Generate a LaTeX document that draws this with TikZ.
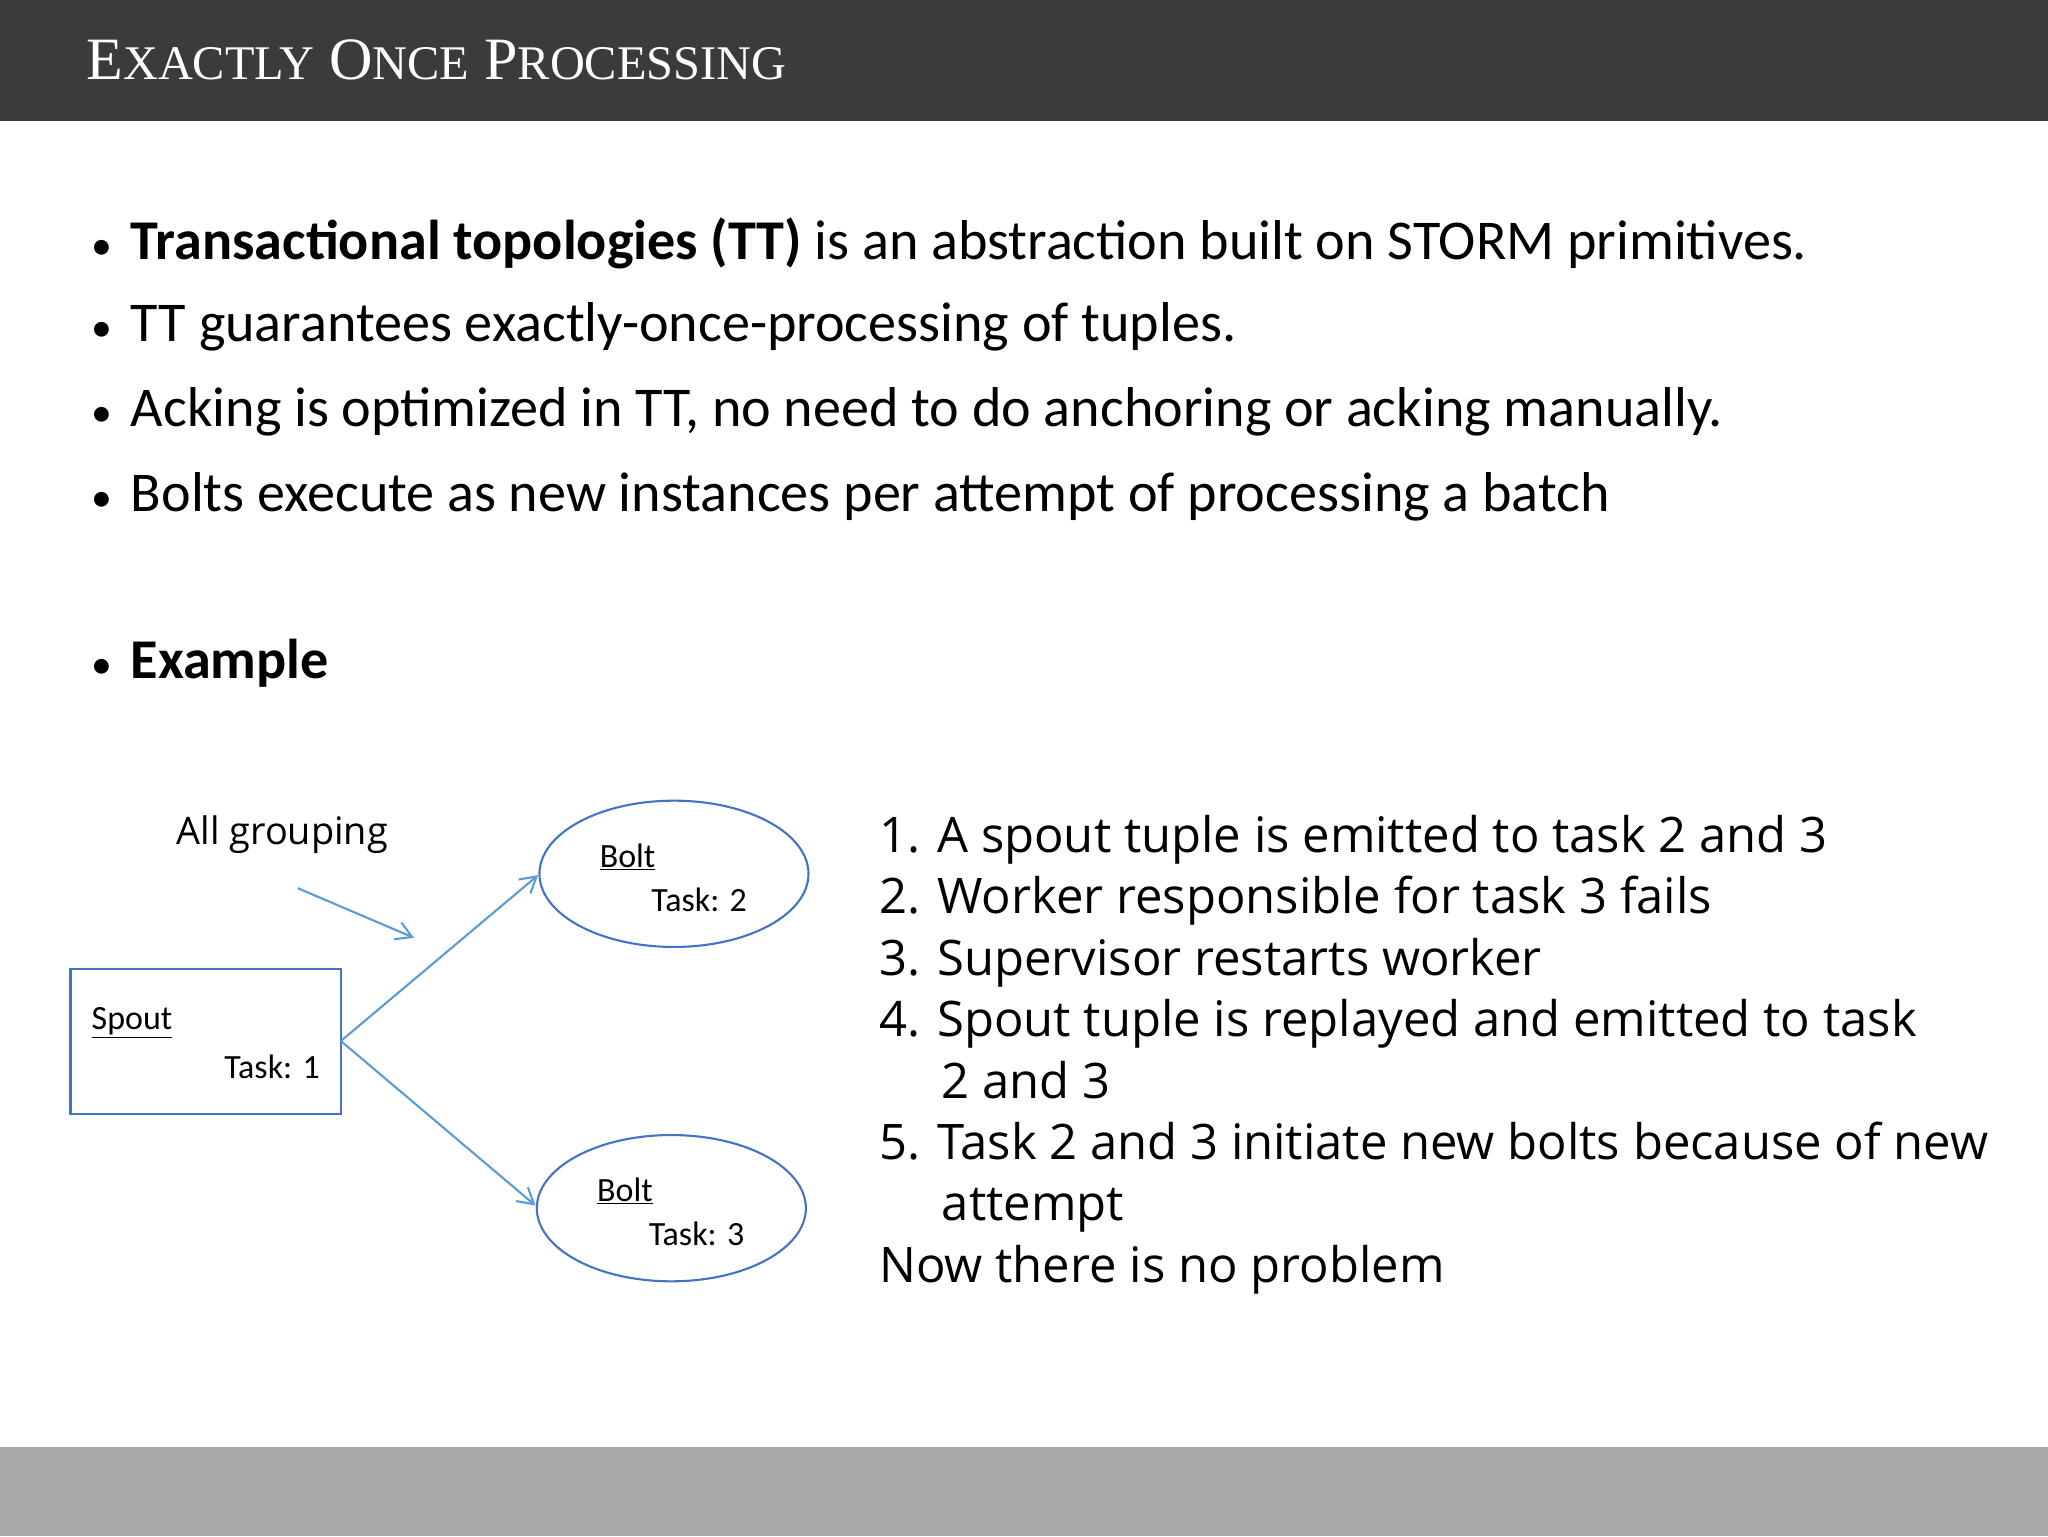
\documentclass[tikz,border=0pt]{standalone}
\usepackage{fontspec}
\setmainfont{Carlito}
\newfontfamily\listfont{Open Sans}
\newfontfamily\headfont{Liberation Serif}
\usetikzlibrary{arrows.meta}
\definecolor{hdr}{HTML}{3B3B3B}
\definecolor{ftr}{HTML}{A9A8AB}
\definecolor{shp}{HTML}{4472C4}
\definecolor{arr}{HTML}{5B9BD5}
\tikzset{
 bul/.style={anchor=west,inner sep=0pt,font=\fontsize{43}{50}\selectfont},
 lst/.style={anchor=north west,inner sep=0pt,align=left,font=\listfont\fontsize{37.5}{47}\selectfont},
 lbl/.style={inner sep=0pt,font=\fontsize{26}{30}\selectfont},
 conn/.style={draw=arr,line width=1.6pt,-{Straight Barb[length=12pt,width=14pt]}},
}
\newcommand{\bdot}{\makebox[30pt][l]{\fontsize{32}{32}\selectfont •}}
\begin{document}
\begin{tikzpicture}[x=1pt,y=-1pt]
\useasboundingbox (0,0) rectangle (1568,1176);
\fill[white] (0,0) rectangle (1568,1176);
\fill[hdr] (0,0) rectangle (1568,93);
\fill[ftr] (0,1108) rectangle (1568,1176);
\node[anchor=west,text=white,inner sep=0pt,font=\headfont\fontsize{46}{50}\selectfont] (title) at (66,46)
 {E{\fontsize{37}{40}\selectfont XACTLY} O{\fontsize{37}{40}\selectfont NCE} P{\fontsize{37}{40}\selectfont ROCESSING}};
\node[bul] (b1) at (70,186) {\bdot\textbf{Transactional topologies (TT)} is an abstraction built on STORM primitives.};
\node[bul] (b2) at (70,250) {\bdot TT guarantees exactly-once-processing of tuples.};
\node[bul] (b3) at (70,315) {\bdot Acking is optimized in TT, no need to do anchoring or acking manually.};
\node[bul] (b4) at (70,380) {\bdot Bolts execute as new instances per attempt of processing a batch};
\node[bul] (b5) at (70,508) {\bdot\textbf{Example}};

\draw[shp,line width=1.6pt] (54,742) rectangle (261,853);
\coordinate (sp) at (261,797);
\node[lbl,anchor=west] (spl) at (70,783) {\underline{Spout}};
\node[lbl,anchor=east] (spt) at (245,817) {Task: 1};
\draw[shp,line width=1.6pt] (516,669) ellipse [x radius=103,y radius=56];
\coordinate (b2in) at (412,670);
\node[lbl,anchor=west] (bl2) at (459,656) {\underline{Bolt}};
\node[lbl,anchor=east] (bt2) at (572,689) {Task: 2};
\draw[shp,line width=1.6pt] (514,925) ellipse [x radius=103,y radius=56];
\coordinate (b3in) at (410,923);
\node[lbl,anchor=west] (bl3) at (457,912) {\underline{Bolt}};
\node[lbl,anchor=east] (bt3) at (570,945) {Task: 3};
\draw[conn] (sp) -- (b2in);
\draw[conn] (sp) -- (b3in);
\node[lbl,anchor=west,font=\listfont\fontsize{29}{32}\selectfont] (ag) at (135,639) {All grouping};
\coordinate (ga) at (228,680);
\coordinate (gb) at (317,718);
\draw[conn] (ga) -- (gb);

\node[lst] (list) at (673,624) {1. A spout tuple is emitted to task 2 and 3\\
2. Worker responsible for task 3 fails\\
3. Supervisor restarts worker\\
4. Spout tuple is replayed and emitted to task\\
\hspace{48pt}2 and 3\\
5. Task 2 and 3 initiate new bolts because of new\\
\hspace{48pt}attempt\\
Now there is no problem};
\end{tikzpicture}
\end{document}
